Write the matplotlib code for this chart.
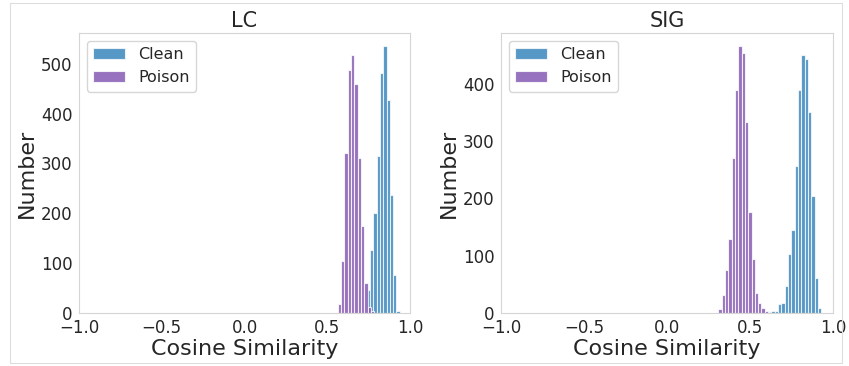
import numpy as np
import matplotlib
matplotlib.use("Agg")
import matplotlib.pyplot as plt
import seaborn as sns

sns.set_style("white")
plt.rcParams['font.family'] = ['DejaVu Sans']

# bin width of the cosine-similarity histograms
bin_w = 0.02

# LC panel: counts per bin, first bin's left edge
lc_clean_lo = 0.738
lc_clean = [46, 127, 200, 314, 481, 535, 427, 237, 77, 3]
lc_poison_lo = 0.563
lc_poison = [18, 105, 320, 488, 517, 460, 310, 175, 60, 12, 3]

# SIG panel
sig_clean_lo = 0.61
sig_clean = [2, 3, 4, 16, 18, 47, 103, 145, 256, 390, 450, 443, 351, 204, 61, 9]
sig_poison_lo = 0.31
sig_poison = [6, 31, 75, 130, 270, 389, 466, 454, 334, 177, 95, 34, 18, 8, 4]

clean_color = '#1f77b4'
poison_color = '#7d4fae'


def draw_hist(ax, lo, counts, color, alpha, label):
    edges = lo + bin_w * np.arange(len(counts) + 1)
    centers = edges[:-1] + bin_w / 2
    ax.hist(centers, bins=edges, weights=counts, color=color, alpha=alpha,
            edgecolor='white', linewidth=0.8, label=label)


fig = plt.figure(figsize=(8.49, 3.66), dpi=100)
ax1 = fig.add_axes([0.093, 0.145, 0.390, 0.765])
ax2 = fig.add_axes([0.590, 0.145, 0.391, 0.765])

panels = [(ax1, 'LC', lc_clean_lo, lc_clean, lc_poison_lo, lc_poison),
          (ax2, 'SIG', sig_clean_lo, sig_clean, sig_poison_lo, sig_poison)]

for ax, title, c_lo, c, p_lo, p in panels:
    draw_hist(ax, c_lo, c, clean_color, 0.75, 'Clean')
    draw_hist(ax, p_lo, p, poison_color, 0.8, 'Poison')
    ax.set_xlim(-1, 1)
    ax.set_xticks([-1.0, -0.5, 0.0, 0.5, 1.0])
    ax.set_title(title, fontsize=15, pad=4)
    ax.set_xlabel('Cosine Similarity', fontsize=16, labelpad=1)
    ax.set_ylabel('Number', fontsize=16, labelpad=3)
    ax.tick_params(labelsize=12, pad=1)
    for s in ax.spines.values():
        s.set_color('#d5d5d5')
    ax.legend(loc='upper left', fontsize=11.5, borderaxespad=0.5)

# light frame around the whole picture
fig.add_artist(plt.Rectangle((10 / 849, 3 / 366), 832 / 849, 360 / 366,
                             transform=fig.transFigure, fill=False,
                             edgecolor='#dddddd', linewidth=0.8))

fig.savefig('out.png', dpi=100)
